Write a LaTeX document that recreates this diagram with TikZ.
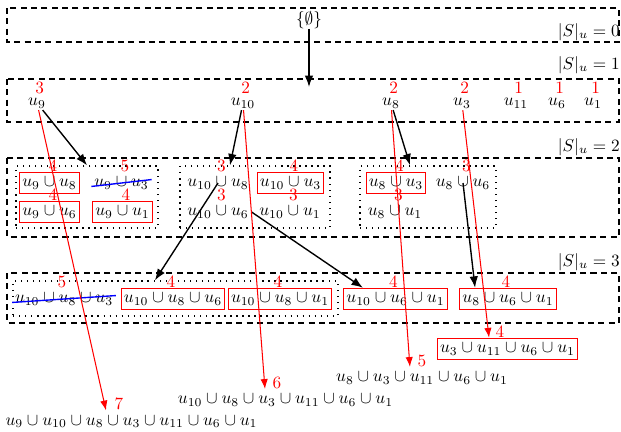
\documentclass[tikz,border=0pt]{standalone}
\usepackage{amsmath}
\usepackage{amssymb}
\usetikzlibrary{arrows.meta}
\usetikzlibrary{fit}

\begin{document}
\begin{tikzpicture}[
    x=0.58pt,
    y=-0.58pt,
    band/.style={thick, black, dash pattern=on 3.5pt off 2.5pt},
    grp/.style={draw, thick, dash pattern=on 0.8pt off 2.7pt, inner sep=0pt},
    elem/.style={inner sep=1pt},
    setnode/.style={inner xsep=1.5pt, inner ysep=2.7pt},
    chosen/.style={setnode, draw=red, semithick},
    num/.style={text=red, inner sep=0pt},
    n1/.style={label={[num, xshift=1.5pt, yshift=1pt]above:#1}},
    n2/.style={label={[num, xshift=2pt]above:#1}},
    n3/.style={label={[num, xshift=-1.2pt]above:#1}},
    strike/.style={blue, thick},
    move/.style={-{Latex}, thick, black},
    pick/.style={-{Latex}, semithick, red}
]
\useasboundingbox (0,0) rectangle (621,431);

% Levels
\draw[band] (7,8) rectangle (619,42);
\draw[band] (7,79) rectangle (619,122);
\draw[band] (7,158) rectangle (619,237);
\draw[band] (7,273) rectangle (619,323);

\node[inner sep=0pt, anchor=east] (size0) at (620,32) {$|S|_u=0$};
\node[inner sep=0pt, anchor=east] (size1) at (620,65) {$|S|_u=1$};
\node[inner sep=0pt, anchor=east] (size2) at (620,147) {$|S|_u=2$};
\node[inner sep=0pt, anchor=east] (size3) at (620,262) {$|S|_u=3$};

% |S|_u = 0
\node[inner sep=0pt] (empty) at (309,20) {$\{\emptyset\}$};
\coordinate (lvl1in) at (309,87);

% |S|_u = 1
\node[elem, n1=3] (e9) at (37,103) {$u_9$};
\node[elem, n1=2] (e10) at (243,103) {$u_{10}$};
\node[elem, n1=2] (e8) at (391,103) {$u_8$};
\node[elem, n1=2] (e3) at (462,103) {$u_3$};
\node[elem, n1=1] (e11) at (516,103) {$u_{11}$};
\node[elem, n1=1] (e6) at (557,103) {$u_6$};
\node[elem, n1=1] (e1) at (593,103) {$u_1$};

% |S|_u = 2
\node[grp, fit={(16,166) (158,228)}] (gA) {};
\node[grp, fit={(180,166) (330,228)}] (gB) {};
\node[grp, fit={(360,166) (496,228)}] (gC) {};

\node[chosen, n2=4] (s98) at (49.5,183) {$u_9\cup u_8$};
\node[setnode, n2=5] (s93) at (121.5,183) {$u_9\cup u_3$};
\node[chosen, n2=4] (s96) at (49.5,212) {$u_9\cup u_6$};
\node[chosen, n2=4] (s91) at (122.5,212) {$u_9\cup u_1$};

\node[setnode, n2=3] (s108) at (218,183) {$u_{10}\cup u_8$};
\node[chosen, n2=4] (s103) at (290.5,183) {$u_{10}\cup u_3$};
\node[setnode, n2=3] (s106) at (218,212) {$u_{10}\cup u_6$};
\node[setnode, n2=3] (s101) at (290,212) {$u_{10}\cup u_1$};

\node[chosen, n2=4] (s83) at (396,183) {$u_8\cup u_3$};
\node[setnode, n2=3] (s86) at (463,183) {$u_8\cup u_6$};
\node[setnode, n2=3] (s81) at (395,212) {$u_8\cup u_1$};

\draw[strike] ([yshift=-2pt]s93.west) -- ([yshift=2pt]s93.east);

% |S|_u = 3
\node[grp, fit={(13,281) (338,316)}] (gD) {};

\node[setnode, n3=5] (t1083) at (64,299) {$u_{10}\cup u_8\cup u_3$};
\node[chosen, n3=4] (t1086) at (173,299) {$u_{10}\cup u_8\cup u_6$};
\node[chosen, n3=4] (t1081) at (280,299) {$u_{10}\cup u_8\cup u_1$};
\node[chosen, n3=4] (t1061) at (395.5,299) {$u_{10}\cup u_6\cup u_1$};
\node[chosen, n3=4] (t861) at (508,299) {$u_8\cup u_6\cup u_1$};

\draw[strike] ([yshift=-2pt]t1083.west) -- ([yshift=2pt]t1083.east);

% Results
\node[chosen, label={[num, xshift=-4.4pt]above:4}] (r4) at (507.5,349) {$u_3\cup u_{11}\cup u_6\cup u_1$};
\node[setnode, label={[num]above:5}] (r5) at (422,378) {$u_8\cup u_3\cup u_{11}\cup u_6\cup u_1$};
\node[setnode, label={[num, xshift=-4.9pt]above:6}] (r6) at (285.5,400) {$u_{10}\cup u_8\cup u_3\cup u_{11}\cup u_6\cup u_1$};
\node[setnode, label={[num, xshift=-7.3pt]above:7}] (r7) at (131.5,421.5) {$u_9\cup u_{10}\cup u_8\cup u_3\cup u_{11}\cup u_6\cup u_1$};

% Expansion
\draw[move] (empty) -- (lvl1in);
\draw[move] (e9) -- (gA.north);
\draw[move] (e10) -- ([xshift=-14.5pt]gB.north);
\draw[move] (e8) -- ([xshift=-10.4pt]gC.north);
\draw[move] (s108.center) -- ([xshift=-11.9pt]gD.north);
\draw[move] (s106.east) -- ([xshift=-18.9pt]t1061.north);
\draw[move] (s86.center) -- ([xshift=-19.1pt]t861.north);

% Greedy paths
\draw[pick] (e9) -- ([xshift=-14.8pt]r7.north);
\draw[pick] (e10) -- ([xshift=-11.9pt]r6.north);
\draw[pick] (e8) -- ([xshift=-7pt]r5.north);
\draw[pick] (e3) -- ([xshift=-10.7pt]r4.north);
\end{tikzpicture}
\end{document}
